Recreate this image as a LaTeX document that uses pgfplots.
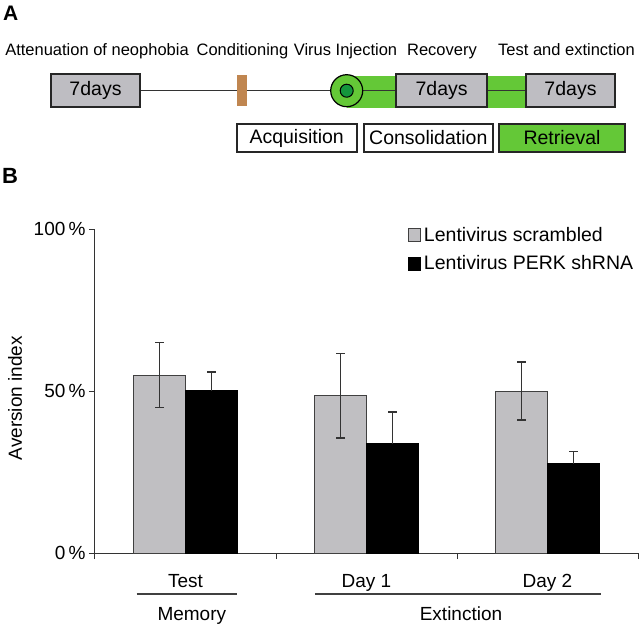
\documentclass[border=0pt]{standalone}
\usepackage{pgfplots}
\pgfplotsset{compat=1.18}
\usepackage{fontspec}
\setmainfont{Liberation Sans}
\definecolor{barGray}{RGB}{192,191,194}
\definecolor{boxGray}{RGB}{190,189,194}
\definecolor{tlGreen}{RGB}{100,200,55}
\definecolor{darkGreen}{RGB}{20,150,60}
\definecolor{brownbar}{RGB}{192,134,80}
\newcommand{\fA}{\fontsize{16.5}{19}\selectfont}
\newcommand{\fB}{\fontsize{19.5}{22}\selectfont}
\newcommand{\fC}{\fontsize{19}{22}\selectfont}
\begin{document}
\begin{tikzpicture}[x=1pt,y=1pt]
\path[use as bounding box] (0,0) rectangle (640,-625);
% ---------- Panel A ----------
\node[anchor=base west, inner sep=0, font=\fontsize{21}{24}\selectfont\bfseries] at (3,-20.7) {A};
\node[anchor=base, inner sep=0, font=\fA] at (97,-55) {Attenuation of neophobia};
\node[anchor=base, inner sep=0, font=\fA] at (242.5,-55) {Conditioning};
\node[anchor=base, inner sep=0, font=\fA] at (345.5,-55) {Virus Injection};
\node[anchor=base, inner sep=0, font=\fA] at (442,-55) {Recovery};
\node[anchor=base, inner sep=0, font=\fA] at (566.5,-55) {Test and extinction};
% green band
\fill[tlGreen] (346.7,-76) rectangle (605,-108.3);
% timeline line
\draw[line width=1pt, black!80] (140,-90.7) -- (526,-90.7);
% brown conditioning bar
\fill[brownbar] (236.7,-75) rectangle (246.7,-106);
% virus injection circle
\draw[line width=1.2pt, fill=tlGreen] (346.7,-90.7) circle (16);
\draw[line width=1pt, fill=darkGreen] (346.7,-90.7) circle (6.5);
% 7 days boxes
\draw[line width=2.2pt, black!85, fill=boxGray] (51,-74) rectangle (140,-106.7);
\node[font=\fB, inner sep=0] at (95.5,-90.4) {7days};
\draw[line width=2.2pt, black!85, fill=boxGray] (396,-74) rectangle (487.3,-106.7);
\node[font=\fB, inner sep=0] at (441.6,-90.4) {7days};
\draw[line width=2.2pt, black!85, fill=boxGray] (526,-74) rectangle (615,-106.7);
\node[font=\fB, inner sep=0] at (570.5,-90.4) {7days};
% phase boxes
\draw[line width=2.2pt, black!85, fill=white] (236.7,-124) rectangle (356.7,-151.7);
\node[font=\fB, inner sep=0] at (296.7,-138) {Acquisition};
\draw[line width=2.2pt, black!85, fill=white] (364,-124) rectangle (492.7,-151.7);
\node[font=\fB, inner sep=0] at (428.3,-138) {Consolidation};
\draw[line width=2.2pt, black!85, fill=tlGreen] (499,-124) rectangle (625,-151.7);
\node[font=\fB, inner sep=0] at (562,-138) {Retrieval};
% ---------- Panel B ----------
\node[anchor=base west, inner sep=0, font=\fontsize{22}{25}\selectfont\bfseries] at (2,-183) {B};
\begin{axis}[
  at={(95pt,-553pt)}, anchor=south west,
  scale only axis, width=543pt, height=324pt,
  xmin=0, xmax=3, ymin=0, ymax=100,
  axis lines*=left,
  axis line style={line width=1pt, black!80},
  clip=false,
  ybar=0pt, bar width=52pt,
  xtick={0,1,2,3}, xticklabels={},
  extra x ticks={0.5,1.5,2.5},
  extra x tick labels={Test,Day 1,Day 2},
  extra x tick style={major tick length=0pt, xticklabel style={anchor=base, yshift=-34pt}},
  ytick={0,50,100}, yticklabels={0\,\%,50\,\%,100\,\%},
  tick align=outside, major tick length=6pt,
  tick style={black!80, line width=1pt},
  ticklabel style={font=\fC},
  /pgf/number format/assume math mode=true,
  every axis y label/.style={at={(axis description cs:-0.147,0.478)}, rotate=90, anchor=center, font=\fC},
  ylabel={Aversion index},
  legend style={at={(axis description cs:0.5764,1.016)}, anchor=north west, draw=none, fill=none,
     font=\fB, row sep=7pt, inner sep=0pt, nodes={inner sep=3pt}},
  legend cell align=left,
  legend image code/.code={\draw[#1, line width=0.8pt] (0pt,-6.5pt) rectangle (12pt,6.5pt);},
  error bars/error bar style={line width=1.4pt, black!80},
  error bars/error mark options={rotate=90, mark size=4.5pt, line width=1.4pt, black!80},
]
\addplot[fill=barGray, draw=black!75, line width=0.9pt,
  error bars/.cd, y dir=both, y explicit]
  coordinates {(0.5,54.9) +- (0,10) (1.5,48.5) +- (0,13) (2.5,50) +- (0,8.9)};
\addplot[fill=black, draw=black, line width=0.9pt,
  error bars/.cd, y dir=plus, y explicit]
  coordinates {(0.5,50.1) +- (0,5.8) (1.5,33.7) +- (0,9.8) (2.5,27.6) +- (0,3.7)};
\legend{Lentivirus scrambled, Lentivirus PERK shRNA}
% group annotations
\draw[line width=1.2pt, black!75] ([yshift=-41pt]axis cs:0.23,0) -- ([yshift=-41pt]axis cs:0.785,0);
\draw[line width=1.2pt, black!75] ([yshift=-41pt]axis cs:1.215,0) -- ([yshift=-41pt]axis cs:2.796,0);
\node[anchor=base, font=\fC, inner sep=0] at ([yshift=-67pt]axis cs:0.535,0) {Memory};
\node[anchor=base, font=\fC, inner sep=0] at ([yshift=-67pt]axis cs:2.022,0) {Extinction};
\end{axis}
\end{tikzpicture}
\end{document}
